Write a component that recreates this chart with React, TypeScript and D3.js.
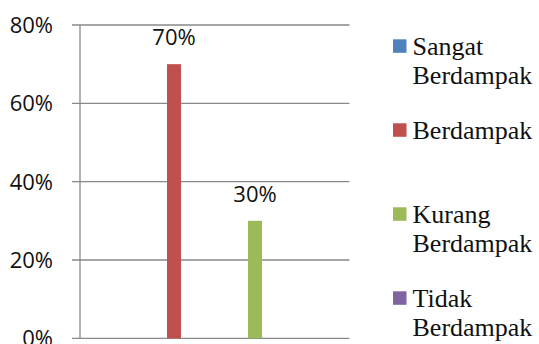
import React from "react";
import * as d3 from "d3";

const seriesNames = ["Sangat Berdampak", "Berdampak", "Kurang Berdampak", "Tidak Berdampak"];
const seriesValues = [0, 0.7, 0.3, 0];
const seriesColors = ["#4F81BD", "#C0504D", "#9BBB59", "#8064A2"];
const yTicks = [0, 0.2, 0.4, 0.6, 0.8];

const W = 539;
const H = 344;
const plotLeft = 80;
const plotRight = 349.5;
const plotTop = 25;
const plotBottom = 338.3;
const barWidth = 14;
const sansStyle = { fontFamily: "Open Sans", fontSize: 22 };
const serifStyle = { fontFamily: "Liberation Serif", fontSize: 26 };

export default function App() {
  const y = d3.scaleLinear().domain([0, 0.8]).range([plotBottom, plotTop]);
  const x = d3.scalePoint<string>().domain(seriesNames).range([93, 336]);
  const pct = d3.format(".0%");
  const gridColor = "#898989";

  return (
    <svg width={W} height={H} style={{ position: "absolute", left: 0, top: 0, background: "#fff" }}>
      {yTicks.map((t) => (
        <g key={t}>
          <line x1={plotLeft - 8} x2={plotRight} y1={y(t)} y2={y(t)} stroke={gridColor} strokeWidth={1.3} />
          <text x={53} y={y(t)} dy="0.36em" textAnchor="end" style={sansStyle} fill="#111">
            {pct(t)}
          </text>
        </g>
      ))}
      <line x1={plotLeft} x2={plotLeft} y1={plotTop} y2={plotBottom} stroke={gridColor} strokeWidth={1.3} />
      {seriesNames.map((s, i) => {
        const v = seriesValues[i];
        const cx = x(s) as number;
        return (
          <g key={s}>
            {v > 0 && (
              <>
                <rect x={cx - barWidth / 2} y={y(v)} width={barWidth} height={plotBottom - y(v)} fill={seriesColors[i]} />
                <text x={cx} y={y(v) - 19} textAnchor="middle" style={sansStyle} fill="#111">
                  {pct(v)}
                </text>
              </>
            )}
          </g>
        );
      })}
      {seriesNames.map((s, i) => {
        const cy = 46 + i * 84;
        const lines = s.split(" ");
        return (
          <g key={"leg" + s}>
            <rect x={393} y={cy - 6.7} width={13.5} height={13.5} fill={seriesColors[i]} />
            {lines.map((l, j) => (
              <text key={j} x={412.5} y={cy + 9 + j * 29} style={serifStyle} fill="#111">
                {l}
              </text>
            ))}
          </g>
        );
      })}
    </svg>
  );
}
